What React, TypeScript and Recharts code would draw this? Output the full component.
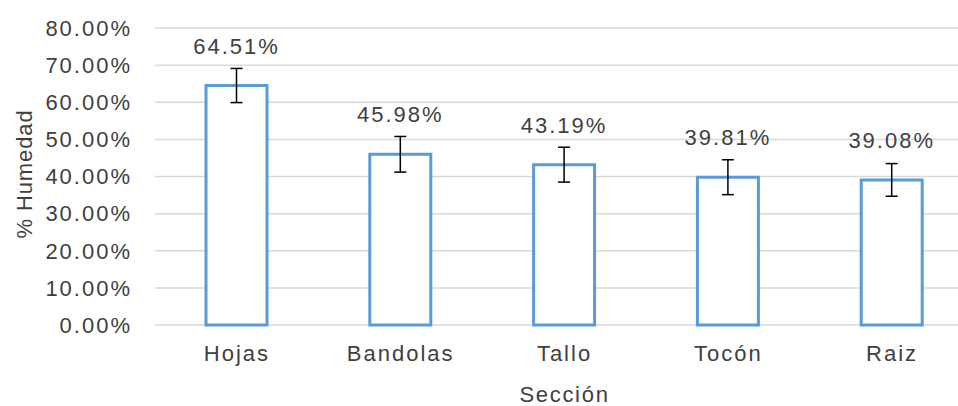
import { Bar, BarChart, CartesianGrid, ErrorBar, LabelList, Label, XAxis, YAxis } from "recharts";

const categories = ["Hojas", "Bandolas", "Tallo", "Tocón", "Raiz"];
const humedad = [64.51, 45.98, 43.19, 39.81, 39.08];
const errores = [4.6, 4.8, 4.7, 4.7, 4.4];
const yTicks = [0, 10, 20, 30, 40, 50, 60, 70, 80];

const FONT = '"Liberation Sans", Arial, sans-serif';
const TEXT = "#404040";

const pct = (v: number) => `${Number(v).toFixed(2)}%`;

export default function App() {
  const data = categories.map((c, i) => ({
    name: c,
    value: humedad[i],
    err: errores[i],
  }));

  return (
    <div
      style={{
        position: "absolute",
        left: 0,
        top: 0,
        width: 958,
        height: 406,
        overflow: "hidden",
        background: "#fff",
      }}
    >
      <BarChart
        width={975}
        height={406}
        data={data}
        margin={{ top: 28, right: 1, left: 0, bottom: 0 }}
        style={{ fontFamily: FONT }}
      >
        <CartesianGrid stroke="#d9d9d9" strokeWidth={1.5} vertical={false} />
        <XAxis
          dataKey="name"
          height={81}
          axisLine={false}
          tickLine={false}
          tickSize={0}
          tickMargin={20}
          tick={{ fill: TEXT, fontSize: 22, letterSpacing: 2 }}
        >
          <Label
            value="Sección"
            position="insideBottom"
            offset={4}
            fill={TEXT}
            fontSize={22}
            letterSpacing={1.7}
          />
        </XAxis>
        <YAxis
          width={155}
          domain={[0, 80]}
          ticks={yTicks}
          interval={0}
          axisLine={false}
          tickLine={false}
          tickSize={0}
          tickMargin={23}
          tickFormatter={pct}
          tick={{ fill: TEXT, fontSize: 22, letterSpacing: 2 }}
        >
          <Label
            content={() => (
              <text
                x={0}
                y={0}
                transform="translate(32,174) rotate(-90)"
                textAnchor="middle"
                fill={TEXT}
                fontSize={22}
                letterSpacing={0.9}
                fontFamily={FONT}
              >
                % Humedad
              </text>
            )}
          />
        </YAxis>
        <Bar
          dataKey="value"
          barSize={61}
          fill="#ffffff"
          stroke="#5b9bd5"
          strokeWidth={3}
          isAnimationActive={false}
        >
          <ErrorBar dataKey="err" width={6} stroke="#000" strokeWidth={1.5} direction="y" />
          <LabelList
            dataKey="value"
            position="top"
            offset={32}
            formatter={(v: any) => pct(v)}
            fill={TEXT}
            fontSize={22}
            letterSpacing={2}
          />
        </Bar>
      </BarChart>
    </div>
  );
}
